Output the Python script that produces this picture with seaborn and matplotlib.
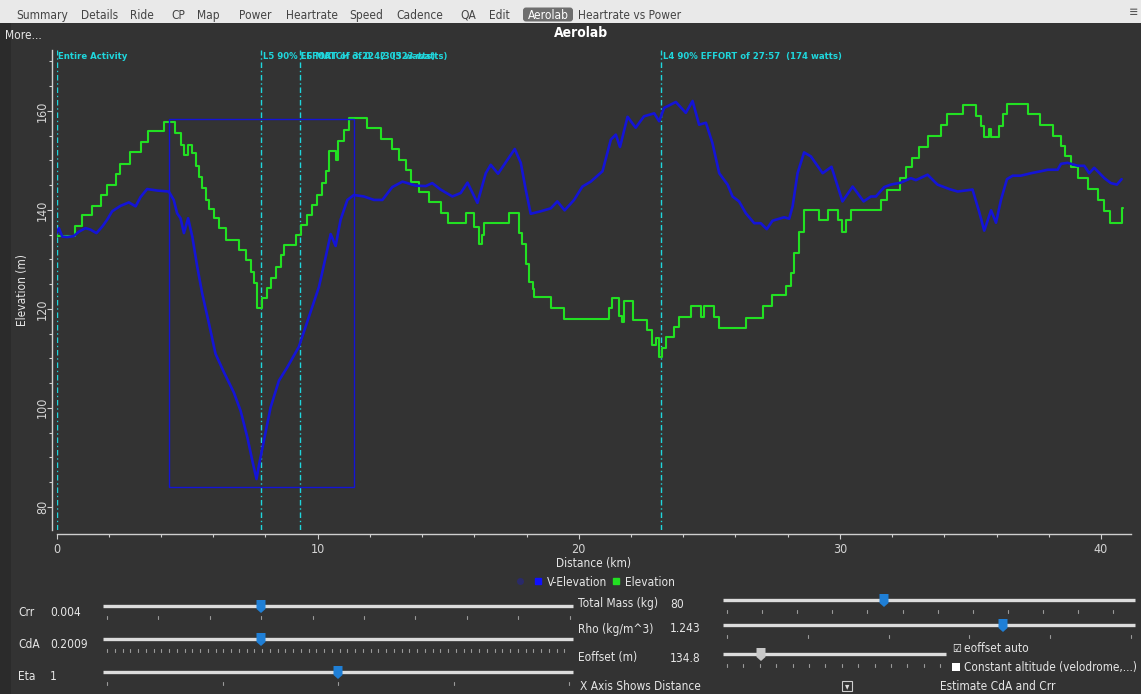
"""
Aerolab view: virtual elevation vs recorded elevation.
"""

import numpy as np
import pandas as pd
import matplotlib
matplotlib.use("Agg")
import matplotlib.pyplot as plt
import seaborn as sns
from matplotlib.lines import Line2D
from matplotlib.patches import Rectangle, Polygon, FancyBboxPatch
from matplotlib.ticker import MultipleLocator
import matplotlib.transforms as mtransforms

# ---- chart data ----
elev_km = [0.00, 0.69, 0.98, 1.37, 1.69, 1.94, 2.26, 2.43, 2.80, 3.22, 3.50, 4.11,
           4.52, 4.75, 4.90, 5.05, 5.20, 5.33, 5.45, 5.58, 5.71, 5.85, 6.03, 6.22,
           6.48, 6.99, 7.24, 7.43, 7.56, 7.69, 7.88, 8.05, 8.20, 8.39, 8.58, 8.71,
           9.16, 9.35, 9.60, 9.80, 9.99, 10.18, 10.31, 10.43, 10.69, 10.78, 11.01,
           11.20, 11.90, 12.41, 12.86, 13.12, 13.37, 13.56, 13.88, 14.27, 14.71,
           14.99, 15.67, 15.99, 16.18, 16.30, 16.37, 17.33, 17.71, 17.84, 17.97,
           18.10, 18.23, 18.29, 18.93, 19.44, 21.16, 21.29, 21.53, 21.66, 21.74,
           22.06, 22.63, 22.82, 22.95, 23.08, 23.20, 23.33, 23.65, 23.84, 24.29,
           24.67, 24.79, 25.19, 25.38, 26.40, 27.04, 27.42, 27.93, 28.12, 28.25,
           28.44, 28.61, 29.20, 29.55, 29.91, 30.10, 30.25, 30.42, 31.57, 31.80,
           32.31, 32.53, 32.78, 33.04, 33.36, 33.87, 34.12, 34.70, 35.20, 35.39,
           35.53, 35.72, 35.80, 36.10, 36.23, 36.40, 37.19, 37.67, 38.15, 38.47,
           38.63, 38.85, 39.11, 39.51, 39.87, 40.13, 40.36, 40.79, 40.85]
elev_m = [134.7, 136.8, 139.0, 140.8, 143.0, 145.0, 147.3, 149.3, 151.6, 153.8, 155.9, 157.8,
          155.6, 153.2, 151.0, 153.2, 151.5, 148.8, 146.6, 144.5, 142.0, 140.2, 138.4, 136.3,
          134.0, 131.9, 129.9, 127.5, 125.2, 120.1, 122.2, 124.2, 126.2, 128.5, 130.9, 132.9,
          134.9, 137.0, 139.0, 141.0, 143.0, 145.5, 147.8, 151.8, 150.0, 153.9, 156.2,
          158.5, 156.6, 154.3, 152.2, 150.0, 148.0, 145.7, 143.6, 141.5, 139.3,
          137.3, 139.3, 136.6, 133.1, 135.0, 137.3, 139.3, 135.3, 133.0, 129.0,
          125.5, 124.1, 122.3, 120.1, 118.0, 120.1, 122.1, 118.5, 117.3, 121.5,
          117.7, 115.7, 112.6, 114.0, 110.2, 112.0, 114.3, 116.3, 118.4, 120.5,
          118.4, 120.5, 118.4, 116.2, 118.2, 120.5, 122.7, 124.6, 127.2, 131.2,
          135.6, 140.0, 138.0, 140.0, 138.0, 135.6, 138.0, 140.0, 142.0, 144.1,
          146.4, 148.7, 150.5, 152.7, 154.9, 157.1, 159.3, 161.2, 159.0, 156.9,
          154.7, 156.3, 154.7, 156.9, 159.3, 161.4, 159.4, 157.2, 154.9, 152.8,
          150.8, 148.7, 146.4, 144.2, 142.0, 139.7, 137.4, 140.3, 140.3]

velev_km = [0.00, 0.09, 0.22, 0.41, 0.66, 0.86, 1.11, 1.30, 1.53, 1.75, 1.94, 2.13,
            2.45, 2.77, 3.03, 3.22, 3.47, 3.86, 4.30, 4.49, 4.62, 4.75, 4.88, 5.04,
            5.20, 5.39, 5.58, 5.84, 6.09, 6.41, 6.79, 7.05, 7.31, 7.50, 7.66, 7.75,
            7.94, 8.20, 8.52, 8.84, 9.28, 9.67, 10.05, 10.31, 10.50, 10.69, 10.88,
            11.14, 11.39, 11.77, 12.16, 12.48, 12.86, 13.25, 13.75, 14.14, 14.39,
            14.71, 15.16, 15.48, 15.74, 16.12, 16.44, 16.63, 16.91, 17.27, 17.55,
            17.78, 17.97, 18.16, 18.54, 18.93, 19.18, 19.46, 19.82, 20.14, 20.46,
            20.91, 21.23, 21.42, 21.58, 21.87, 22.18, 22.50, 22.89, 23.08, 23.27,
            23.72, 24.10, 24.36, 24.61, 24.87, 25.12, 25.38, 25.70, 25.89, 26.14,
            26.40, 26.72, 26.97, 27.20, 27.42, 27.87, 28.06, 28.19, 28.38, 28.63,
            28.89, 29.34, 29.68, 30.10, 30.49, 30.91, 31.19, 31.38, 31.70, 31.95,
            32.34, 32.72, 32.91, 33.36, 33.74, 34.19, 34.51, 35.08, 35.33, 35.53,
            35.79, 35.98, 36.17, 36.40, 36.62, 36.93, 37.32, 37.70, 37.96, 38.34,
            38.47, 38.72, 39.11, 39.36, 39.55, 39.74, 40.13, 40.38, 40.61, 40.79]
velev_m = [135.3, 136.3, 134.6, 134.5, 134.7, 135.6, 136.3, 136.0, 135.3, 136.6, 138.0, 139.7,
           140.8, 141.5, 140.7, 142.6, 144.2, 143.9, 143.7, 142.0, 139.3, 138.3, 135.3, 138.3,
           134.6, 128.5, 123.1, 117.0, 110.9, 107.2, 103.1, 99.4, 94.0, 89.3, 85.6, 88.3,
           93.3, 100.1, 105.5, 108.2, 112.3, 118.4, 124.4, 130.5, 135.1, 132.7, 138.0,
           142.0, 143.0, 142.7, 142.0, 142.0, 144.6, 145.7, 144.9, 144.8, 145.4,
           144.1, 142.7, 143.4, 145.5, 141.4, 147.4, 149.1, 147.3, 150.1, 152.3,
           149.5, 144.1, 139.2, 139.7, 140.3, 141.7, 139.9, 142.0, 144.7, 145.7,
           147.8, 154.2, 155.2, 152.7, 158.8, 156.6, 158.9, 159.5, 157.9, 160.6,
           161.8, 159.6, 162.0, 157.2, 157.6, 153.5, 147.4, 145.1, 142.7, 141.7,
           139.3, 137.3, 137.3, 136.1, 137.8, 138.5, 138.2, 140.7, 147.4, 151.6,
           150.8, 147.4, 148.7, 141.7, 144.7, 141.7, 142.7, 142.7, 144.6, 145.1,
           145.5, 146.4, 146.0, 147.1, 145.1, 144.2, 143.7, 144.1, 139.7, 135.8,
           139.9, 137.4, 142.0, 146.2, 146.9, 146.9, 147.4, 147.8, 148.1, 148.1,
           149.3, 149.5, 148.9, 148.9, 147.4, 148.5, 146.4, 145.4, 145.1, 146.2]

interval_km = [0.0, 7.84, 9.31, 23.14]
interval_names = ["Entire Activity",
                  "L5 90% EFFORT of 3:22  (305 watts)",
                  "L6 MATCH of 0:42  (323 watts)",
                  "L4 90% EFFORT of 27:57  (174 watts)"]

zoom_box_km = [4.30, 11.39]
zoom_box_m = [83.9, 158.3]

tabs = ["Summary", "Details", "Ride", "CP", "Map", "Power", "Heartrate", "Speed",
        "Cadence", "QA", "Edit", "Aerolab", "Heartrate vs Power"]
tab_x = [42, 100, 142, 178, 208, 255, 312, 366, 420, 468, 499, 548, 630]

left_params = ["Crr", "CdA", "Eta"]
left_values = ["0.004", "0.2009", "1"]
right_params = ["Total Mass (kg)", "Rho (kg/m^3)", "Eoffset (m)"]
right_values = ["80", "1.243", "134.8"]

# ---- style ----
sns.set_theme(style="dark")
BG = "#333333"
FG = "#e6e6e6"
GREEN = "#22e022"
BLUE = "#1414d6"
CYAN = "#1fd6dc"
HANDLE = "#1f7fd6"
plt.rcParams["font.family"] = ["DejaVu Sans"]
plt.rcParams["font.stretch"] = "condensed"
UI_FS = 8.6

W, H = 1141, 694
fig = plt.figure(figsize=(W / 100, H / 100), dpi=100, facecolor=BG)

# pixel-space overlay for window chrome and controls
ui = fig.add_axes([0, 0, 1, 1])
ui.set_xlim(0, W)
ui.set_ylim(H, 0)
ui.axis("off")
ui.set_zorder(0)

ui.add_patch(Rectangle((0, 0), W, 23, color="#e9e9e9", lw=0))
ui.add_patch(Rectangle((0, 23), 11, H - 23, color="#2b2b2b", lw=0))
for name, x in zip(tabs, tab_x):
    if name == "Aerolab":
        ui.add_patch(FancyBboxPatch((x - 25, 7.5), 50, 14, boxstyle="round,pad=0,rounding_size=3",
                                    color="#6e6e6e", lw=0))
        ui.text(x, 15, name, color="white", fontsize=UI_FS, ha="center", va="center")
    else:
        ui.text(x, 15, name, color="#444444", fontsize=UI_FS, ha="center", va="center")
ui.text(1133, 12, "≡", color="#555555", fontsize=9, ha="center", va="center")

ui.text(5, 35, "More...", color=FG, fontsize=UI_FS, ha="left", va="center")
ui.text(581, 33, "Aerolab", color="white", fontsize=10, weight="bold", ha="center", va="center")


def slider(y, x0, x1, handle_x, ticks, handle_color=HANDLE):
    ui.plot([x0, x1], [y, y], color="#dcdcdc", lw=2.4, solid_capstyle="butt")
    for tx in ticks:
        ui.plot([tx, tx], [y + 10, y + 12.5], color="#9a9a9a", lw=0.8)
    hw = 4.5
    ui.add_patch(Polygon([(handle_x - hw, y - 6), (handle_x + hw, y - 6), (handle_x + hw, y + 3),
                          (handle_x, y + 7), (handle_x - hw, y + 3)],
                         closed=True, color=handle_color, lw=0, zorder=3))


# left sliders
for name, val, y in zip(left_params, left_values, [612, 644, 677]):
    ui.text(18, y, name, color=FG, fontsize=UI_FS, va="center")
    ui.text(50, y, val, color=FG, fontsize=UI_FS, va="center")
slider(606, 103, 573, 261, np.arange(107, 572, 51.4))
slider(639, 103, 573, 261, np.arange(107, 572, 7.75))
slider(672, 103, 573, 338, np.arange(107, 572, 115.5))

# right sliders
for name, val, y in zip(right_params, right_values, [604, 629, 658]):
    ui.text(578, y, name, color=FG, fontsize=UI_FS, va="center")
    ui.text(670, y, val, color=FG, fontsize=UI_FS, va="center")
slider(600, 723, 1135, 884, np.arange(727, 1133, 35.1))
slider(625, 723, 1135, 1003, np.arange(727, 1133, 80.8))
slider(654, 723, 946, 761, np.arange(727, 942, 16.4), handle_color="#c8c8c8")

ui.text(952, 649, "☑", color="white", fontsize=8, va="center")
ui.text(964, 649, "eoffset auto", color=FG, fontsize=UI_FS, va="center")
ui.add_patch(Rectangle((952, 663), 8, 8, color="white", lw=0))
ui.text(964, 667, "Constant altitude (velodrome,...)", color=FG, fontsize=UI_FS - 0.2, va="center")
ui.text(580, 687, "X Axis Shows Distance", color=FG, fontsize=UI_FS, va="center")
ui.add_patch(Rectangle((842, 681), 10, 10, fill=False, ec="#cfcfcf", lw=0.8))
ui.text(847, 686, "▾", color="#dddddd", fontsize=7, ha="center", va="center")
ui.text(940, 687, "Estimate CdA and Crr", color=FG, fontsize=UI_FS, va="center")

# ---- main plot ----
ax = fig.add_axes([56.5 / W, (H - 530) / H, (1131 - 56.5) / W, (530 - 50) / H])
ax.set_zorder(1)
ax.set_facecolor("none")

df_elev = pd.DataFrame({"km": elev_km, "m": elev_m})
df_velev = pd.DataFrame({"km": velev_km, "m": velev_m})

sns.lineplot(data=df_elev, x="km", y="m", ax=ax, color=GREEN, lw=1.5,
             drawstyle="steps-post", estimator=None, sort=False, legend=False)
sns.lineplot(data=df_velev, x="km", y="m", ax=ax, color=BLUE, lw=1.9,
             estimator=None, sort=False, legend=False)

ax.add_patch(Rectangle((zoom_box_km[0], zoom_box_m[0]), zoom_box_km[1] - zoom_box_km[0],
                       zoom_box_m[1] - zoom_box_m[0], fill=False, ec=BLUE, lw=1, zorder=2))

trans = mtransforms.blended_transform_factory(ax.transData, ax.transAxes)
for k, name in zip(interval_km, interval_names):
    ax.axvline(k, color=CYAN, lw=1.0, ls=(0, (4, 2, 1, 2)), zorder=1)
    ax.text(k + 0.07, 0.986, name, transform=trans, color=CYAN, fontsize=6.8,
            weight="bold", ha="left", va="center")

ax.set_xlim(0, 41.15)
ax.set_ylim(75.3, 172.3)
ax.xaxis.set_major_locator(MultipleLocator(10))
ax.xaxis.set_minor_locator(MultipleLocator(2))
ax.yaxis.set_major_locator(MultipleLocator(20))
ax.yaxis.set_minor_locator(MultipleLocator(5))
ax.grid(False)

for side in ["top", "right"]:
    ax.spines[side].set_visible(False)
ax.spines["left"].set_position(("outward", 3.3))
ax.spines["bottom"].set_position(("outward", 3.0))
for side in ["left", "bottom"]:
    ax.spines[side].set_color("#cfcfcf")
    ax.spines[side].set_linewidth(1.0)

ax.tick_params(which="both", direction="out", color="#cfcfcf", labelcolor="#d4d4d4",
               labelsize=9, left=True, bottom=True)
ax.tick_params(which="major", length=3.6, width=0.8)
ax.tick_params(which="minor", length=2.2, width=0.8)
ax.tick_params(axis="y", which="major", pad=-1.5)
ax.tick_params(axis="x", which="major", pad=2.5)
for lab in ax.get_yticklabels():
    lab.set_rotation(90)
    lab.set_va("center")

ax.set_xlabel("Distance (km)", color=FG, fontsize=UI_FS, labelpad=1)
ax.set_ylabel("Elevation (m)", color=FG, fontsize=UI_FS, labelpad=5)

handles = [Line2D([], [], ls="none", marker="o", ms=4, color="#2a2a6a"),
           Line2D([], [], ls="none", marker="s", ms=5, color="#1010ff"),
           Line2D([], [], ls="none", marker="s", ms=5, color=GREEN)]
fig.legend(handles, ["", "V-Elevation", "Elevation"], loc="center",
           bbox_to_anchor=(595 / W, 1 - 582 / H), ncol=3, frameon=False,
           handlelength=0.8, handletextpad=0.3, columnspacing=0.4,
           fontsize=UI_FS, labelcolor=FG)

fig.savefig("out.png", dpi=100, facecolor=BG)
